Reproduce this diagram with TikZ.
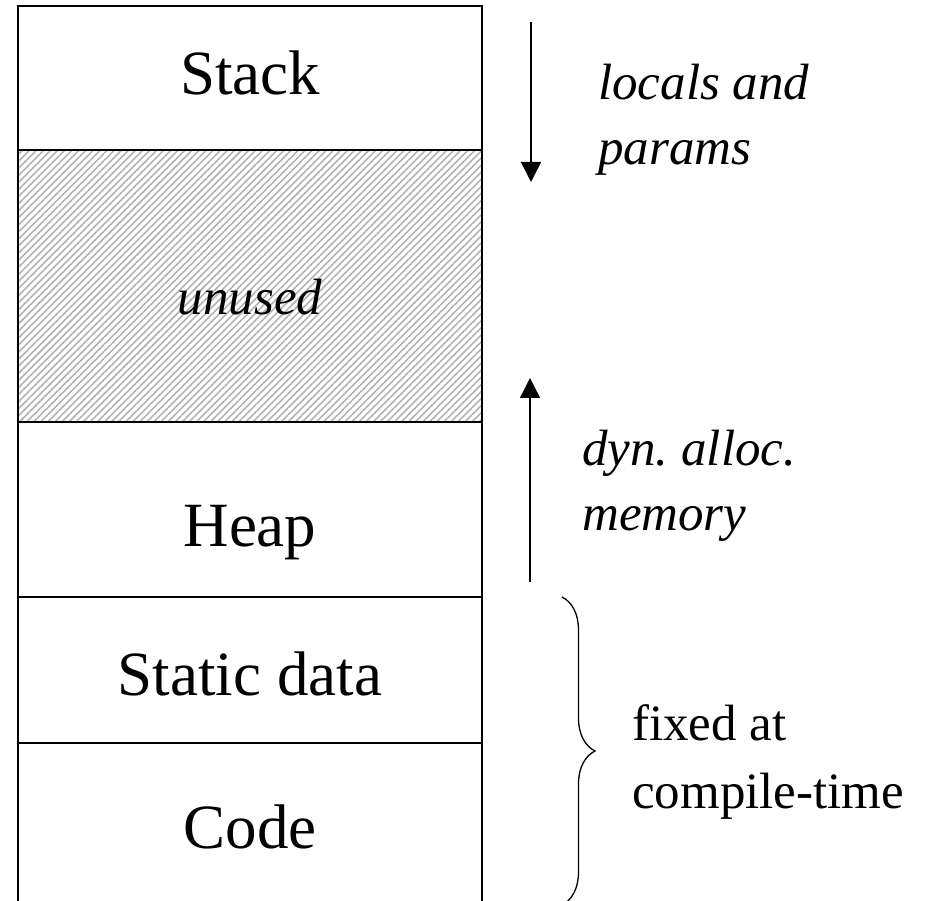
\documentclass[tikz,border=0pt]{standalone}
\usepackage{fontspec}
\setmainfont{Liberation Serif}
\frenchspacing
\usetikzlibrary{arrows.meta,patterns.meta,decorations.pathreplacing}
\tikzset{
  big/.style={font=\fontsize{63}{76}\selectfont, inner sep=0pt, anchor=base},
  side/.style={font=\fontsize{51}{65}\selectfont\itshape, inner sep=0pt, anchor=base west, align=left},
  growth/.style={line width=1.4pt, -{Triangle[length=20pt,width=20pt]}},
}
\begin{document}
\begin{tikzpicture}[x=1pt, y=-1pt]
    \useasboundingbox (0,0) rectangle (930,901);

    % unused region, hatched
    \fill[pattern={Lines[angle=45,distance=5pt,line width=1.6pt]}, pattern color=black!30] (18,150) rectangle (482,422);

    % memory column (no bottom edge)
    \draw[line width=1.6pt] (18,901) -- (18,6) -- (482,6) -- (482,901);
    \foreach \y in {150,422,597,743}
        \draw[line width=1.6pt] (18,\y) -- (482,\y);

    \node[big] (stack) at (250,95) {Stack};
    \node[big, font=\fontsize{51}{60}\selectfont\itshape] (unused) at (250,315) {unused};
    \node[big] (heap) at (250,547) {Heap};
    \node[big] (static) at (250,695) {Static data};
    \node[big] (code) at (250,848) {Code};

    % stack grows down, heap grows up
    \coordinate (stacktop) at (531,22);
    \coordinate (stacktip) at (531,182);
    \draw[growth] (stacktop) -- (stacktip);
    \coordinate (heapbot) at (530,582);
    \coordinate (heaptip) at (530,378);
    \draw[growth] (heapbot) -- (heaptip);

    % base anchor sits on the last line here
    \node[side] (locals) at (598,165) {locals and\\params};
    \node[side] (dyn) at (582,530) {dyn. alloc.\\memory};

    % brace over static data and code
    \coordinate (bracetop) at (562,597);
    \coordinate (bracebot) at (562,905);
    \draw[line width=1.3pt, decorate, decoration={brace, amplitude=33pt}] (bracetop) -- (bracebot);
    \node[side, font=\fontsize{51}{68}\selectfont] (fixed) at (632,808) {fixed at\\compile-time};
\end{tikzpicture}
\end{document}
